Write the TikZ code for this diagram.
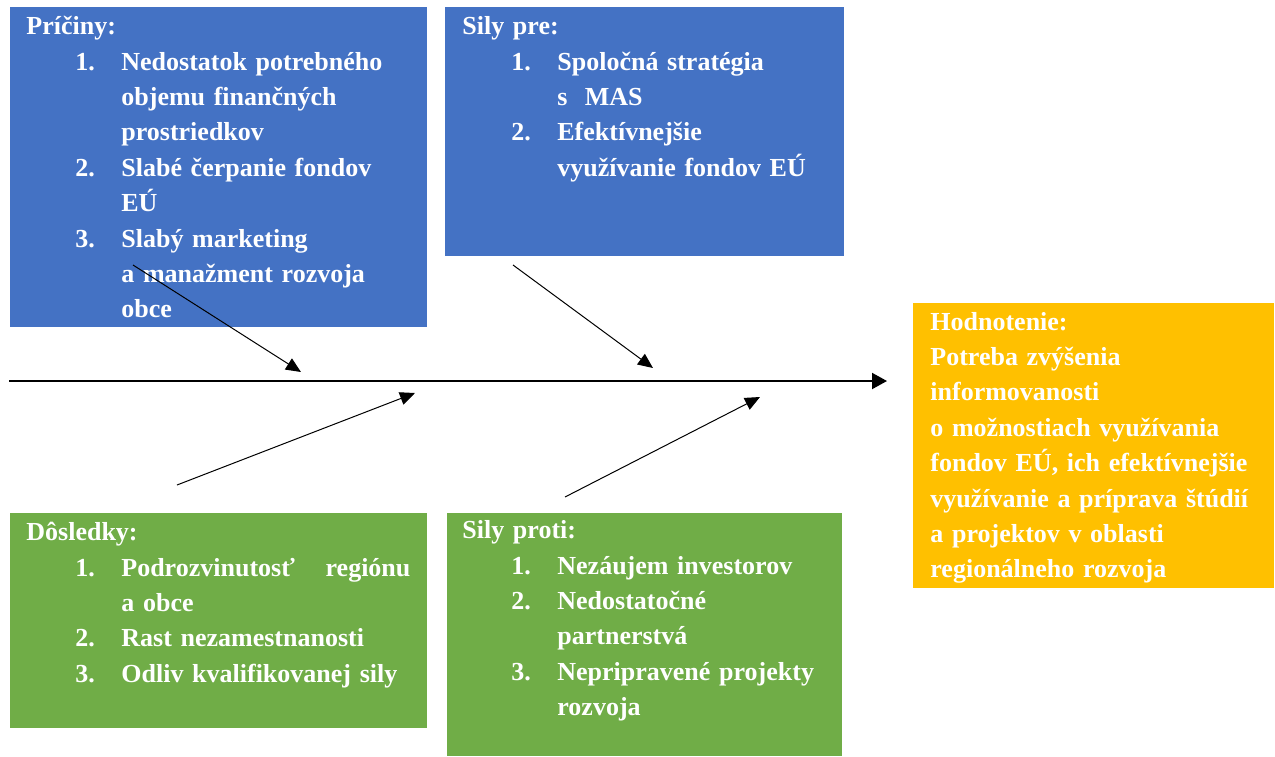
\documentclass[tikz,border=0pt]{standalone}
\usepackage{fontspec}
\setmainfont{Liberation Serif}
\usepackage{tikz}
\usetikzlibrary{arrows.meta}
\usetikzlibrary{positioning}

\definecolor{causeblue}{HTML}{4472C4}
\definecolor{effectgreen}{HTML}{70AD47}
\definecolor{resultgold}{HTML}{FFC000}

\newcommand{\itemrow}[2]{\hspace*{24.5pt}\makebox[23pt][l]{#1}#2}
\newcommand{\controw}[1]{\hspace*{47.5pt}#1}

\tikzset{
  box/.style={rectangle, inner sep=0pt, anchor=north west},
  boxtext/.style={inner sep=0pt, anchor=north west, text=white, align=left,
    text width=260pt, font=\bfseries\fontsize{13}{17.7}\selectfont},
  bone/.style={-{Triangle[length=7.5pt,width=6.5pt]}, line width=0.5pt},
  spine/.style={-{Triangle[length=7.5pt,width=8pt]}, line width=1pt}
}

\begin{document}
\begin{tikzpicture}[x=0.5pt,y=-0.5pt]
    \useasboundingbox (0,0) rectangle (1275,756);
    % boxes
    \node [box, fill=causeblue, minimum width=208.5pt, minimum height=160pt] (priciny) at (10,7) {};
    \node [box, fill=causeblue, minimum width=199.5pt, minimum height=124.5pt] (pre) at (445,7) {};
    \node [box, fill=effectgreen, minimum width=208.5pt, minimum height=107.5pt] (dosledky) at (10,513) {};
    \node [box, fill=effectgreen, minimum width=197.5pt, minimum height=121.5pt] (proti) at (447,513) {};
    \node [box, fill=resultgold, minimum width=180.5pt, minimum height=142.5pt] (hodnotenie) at (913,303) {};
    % texts
    \node [boxtext] (pricinytext) at ([shift={(16,2.5)}]priciny.north west) {\strut Príčiny:\\
      \itemrow{1.}{Nedostatok potrebného}\\
      \controw{objemu finančných}\\
      \controw{prostriedkov}\\
      \itemrow{2.}{Slabé čerpanie fondov}\\
      \controw{EÚ}\\
      \itemrow{3.}{Slabý marketing}\\
      \controw{a manažment rozvoja}\\
      \controw{obce}};
    \node [boxtext] (pretext) at ([shift={(17,2.5)}]pre.north west) {\strut Sily pre:\\
      \itemrow{1.}{Spoločná stratégia}\\
      \controw{s\ \ MAS}\\
      \itemrow{2.}{Efektívnejšie}\\
      \controw{využívanie fondov EÚ}};
    \node [boxtext] (dosledkytext) at ([shift={(16,2.5)}]dosledky.north west) {\strut Dôsledky:\\
      \itemrow{1.}{\makebox[144.5pt][l]{Podrozvinutosť\hfill regiónu}}\\
      \controw{a obce}\\
      \itemrow{2.}{Rast nezamestnanosti}\\
      \itemrow{3.}{Odliv kvalifikovanej sily}};
    \node [boxtext] (protitext) at ([shift={(15,0.5)}]proti.north west) {\strut Sily proti:\\
      \itemrow{1.}{Nezáujem investorov}\\
      \itemrow{2.}{Nedostatočné}\\
      \controw{partnerstvá}\\
      \itemrow{3.}{Nepripravené projekty}\\
      \controw{rozvoja}};
    \node [boxtext] (hodnotenietext) at ([shift={(17,2)}]hodnotenie.north west) {\strut Hodnotenie:\\
      Potreba zvýšenia\\
      informovanosti\\
      o možnostiach využívania\\
      fondov EÚ, ich efektívnejšie\\
      využívanie a príprava štúdií\\
      a projektov v oblasti\\
      regionálneho rozvoja};
    % spine and bones
    \coordinate (tail) at (9,381);
    \coordinate (head) at (887,381);
    \coordinate (c1) at (133,265);
    \coordinate (t1) at (301,372);
    \coordinate (c2) at (513,265);
    \coordinate (t2) at (653,368);
    \coordinate (c3) at (177,485);
    \coordinate (t3) at (415,393);
    \coordinate (c4) at (565,497);
    \coordinate (t4) at (760,397);
    \draw [spine] (tail) -- (head);
    \draw [bone] (c1) -- (t1);
    \draw [bone] (c2) -- (t2);
    \draw [bone] (c3) -- (t3);
    \draw [bone] (c4) -- (t4);
\end{tikzpicture}
\end{document}
